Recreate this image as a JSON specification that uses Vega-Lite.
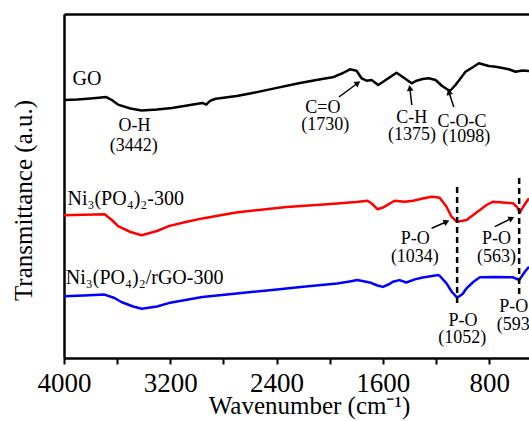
{
  "$schema": "https://vega.github.io/schema/vega-lite/v6.json",
  "width": 465,
  "height": 344,
  "autosize": {"type": "none"},
  "padding": {"left": 64, "top": 14, "right": 0, "bottom": 63},
  "background": "white",
  "config": {"view": {"stroke": null}, "font": "Liberation Serif"},
  "datasets": {
    "spectra": [
      {"series": "GO", "w": 4000, "t": 258}, {"series": "GO", "w": 3900, "t": 258.5}, {"series": "GO", "w": 3800, "t": 259.5}, {"series": "GO", "w": 3682, "t": 260.9}, {"series": "GO", "w": 3640, "t": 258}, {"series": "GO", "w": 3594, "t": 253.4}, {"series": "GO", "w": 3500, "t": 249.5}, {"series": "GO", "w": 3415, "t": 247.4}, {"series": "GO", "w": 3300, "t": 248.5}, {"series": "GO", "w": 3187, "t": 250}, {"series": "GO", "w": 3050, "t": 253}, {"series": "GO", "w": 2959, "t": 255.1}, {"series": "GO", "w": 2929, "t": 253.4}, {"series": "GO", "w": 2910, "t": 256}, {"series": "GO", "w": 2895, "t": 257.5}, {"series": "GO", "w": 2857, "t": 259.2}, {"series": "GO", "w": 2700, "t": 262}, {"series": "GO", "w": 2600, "t": 264.5}, {"series": "GO", "w": 2451, "t": 268.6}, {"series": "GO", "w": 2224, "t": 275}, {"series": "GO", "w": 2100, "t": 278}, {"series": "GO", "w": 1969, "t": 281.1}, {"series": "GO", "w": 1900, "t": 285}, {"series": "GO", "w": 1848, "t": 288.7}, {"series": "GO", "w": 1798, "t": 287.3}, {"series": "GO", "w": 1760, "t": 279.7}, {"series": "GO", "w": 1722, "t": 277.3}, {"series": "GO", "w": 1685, "t": 278}, {"series": "GO", "w": 1635, "t": 273}, {"series": "GO", "w": 1598, "t": 276.3}, {"series": "GO", "w": 1497, "t": 285.3}, {"series": "GO", "w": 1447, "t": 280.7}, {"series": "GO", "w": 1384, "t": 274.7}, {"series": "GO", "w": 1346, "t": 277.3}, {"series": "GO", "w": 1300, "t": 279}, {"series": "GO", "w": 1254, "t": 279.7}, {"series": "GO", "w": 1203, "t": 278}, {"series": "GO", "w": 1154, "t": 272}, {"series": "GO", "w": 1096, "t": 267}, {"series": "GO", "w": 1053, "t": 273}, {"series": "GO", "w": 978, "t": 286.3}, {"series": "GO", "w": 920, "t": 291}, {"series": "GO", "w": 877, "t": 294.7}, {"series": "GO", "w": 802, "t": 292}, {"series": "GO", "w": 752, "t": 291.3}, {"series": "GO", "w": 700, "t": 290}, {"series": "GO", "w": 652, "t": 288.7}, {"series": "GO", "w": 601, "t": 286.3}, {"series": "GO", "w": 550, "t": 287.5}, {"series": "GO", "w": 500, "t": 287},
      {"series": "Ni3(PO4)2-300", "w": 4000, "t": 142.7}, {"series": "Ni3(PO4)2-300", "w": 3850, "t": 143.2}, {"series": "Ni3(PO4)2-300", "w": 3695, "t": 143.7}, {"series": "Ni3(PO4)2-300", "w": 3640, "t": 138}, {"series": "Ni3(PO4)2-300", "w": 3593, "t": 131.9}, {"series": "Ni3(PO4)2-300", "w": 3500, "t": 126}, {"series": "Ni3(PO4)2-300", "w": 3415, "t": 122.8}, {"series": "Ni3(PO4)2-300", "w": 3300, "t": 127}, {"series": "Ni3(PO4)2-300", "w": 3212, "t": 131.9}, {"series": "Ni3(PO4)2-300", "w": 3100, "t": 135.5}, {"series": "Ni3(PO4)2-300", "w": 2959, "t": 139.6}, {"series": "Ni3(PO4)2-300", "w": 2705, "t": 145.4}, {"series": "Ni3(PO4)2-300", "w": 2500, "t": 148.5}, {"series": "Ni3(PO4)2-300", "w": 2324, "t": 151.1}, {"series": "Ni3(PO4)2-300", "w": 2100, "t": 153}, {"series": "Ni3(PO4)2-300", "w": 1944, "t": 154.5}, {"series": "Ni3(PO4)2-300", "w": 1800, "t": 156}, {"series": "Ni3(PO4)2-300", "w": 1715, "t": 157.2}, {"series": "Ni3(PO4)2-300", "w": 1680, "t": 154}, {"series": "Ni3(PO4)2-300", "w": 1639, "t": 148.7}, {"series": "Ni3(PO4)2-300", "w": 1600, "t": 150.5}, {"series": "Ni3(PO4)2-300", "w": 1589, "t": 151.1}, {"series": "Ni3(PO4)2-300", "w": 1513, "t": 157.2}, {"series": "Ni3(PO4)2-300", "w": 1436, "t": 156.2}, {"series": "Ni3(PO4)2-300", "w": 1372, "t": 157.3}, {"series": "Ni3(PO4)2-300", "w": 1300, "t": 159.5}, {"series": "Ni3(PO4)2-300", "w": 1233, "t": 161.2}, {"series": "Ni3(PO4)2-300", "w": 1182, "t": 160.5}, {"series": "Ni3(PO4)2-300", "w": 1171, "t": 160}, {"series": "Ni3(PO4)2-300", "w": 1121, "t": 151.3}, {"series": "Ni3(PO4)2-300", "w": 1083, "t": 141.3}, {"series": "Ni3(PO4)2-300", "w": 1045, "t": 136.3}, {"series": "Ni3(PO4)2-300", "w": 1010, "t": 137}, {"series": "Ni3(PO4)2-300", "w": 970, "t": 138}, {"series": "Ni3(PO4)2-300", "w": 920, "t": 143}, {"series": "Ni3(PO4)2-300", "w": 870, "t": 148}, {"series": "Ni3(PO4)2-300", "w": 820, "t": 153}, {"series": "Ni3(PO4)2-300", "w": 770, "t": 156.3}, {"series": "Ni3(PO4)2-300", "w": 700, "t": 155.5}, {"series": "Ni3(PO4)2-300", "w": 619, "t": 154.7}, {"series": "Ni3(PO4)2-300", "w": 590, "t": 151}, {"series": "Ni3(PO4)2-300", "w": 569, "t": 145.3}, {"series": "Ni3(PO4)2-300", "w": 545, "t": 151}, {"series": "Ni3(PO4)2-300", "w": 519, "t": 156.3}, {"series": "Ni3(PO4)2-300", "w": 500, "t": 159.7},
      {"series": "Ni3(PO4)2/rGO-300", "w": 4000, "t": 61.7}, {"series": "Ni3(PO4)2/rGO-300", "w": 3850, "t": 62.5}, {"series": "Ni3(PO4)2/rGO-300", "w": 3695, "t": 63.4}, {"series": "Ni3(PO4)2/rGO-300", "w": 3620, "t": 60}, {"series": "Ni3(PO4)2/rGO-300", "w": 3568, "t": 56}, {"series": "Ni3(PO4)2/rGO-300", "w": 3480, "t": 51.5}, {"series": "Ni3(PO4)2/rGO-300", "w": 3415, "t": 49.2}, {"series": "Ni3(PO4)2/rGO-300", "w": 3300, "t": 51.5}, {"series": "Ni3(PO4)2/rGO-300", "w": 3212, "t": 54.9}, {"series": "Ni3(PO4)2/rGO-300", "w": 2959, "t": 61}, {"series": "Ni3(PO4)2/rGO-300", "w": 2700, "t": 64.5}, {"series": "Ni3(PO4)2/rGO-300", "w": 2451, "t": 67.8}, {"series": "Ni3(PO4)2/rGO-300", "w": 2200, "t": 71.3}, {"series": "Ni3(PO4)2/rGO-300", "w": 1944, "t": 74.5}, {"series": "Ni3(PO4)2/rGO-300", "w": 1850, "t": 76.5}, {"series": "Ni3(PO4)2/rGO-300", "w": 1792, "t": 77.9}, {"series": "Ni3(PO4)2/rGO-300", "w": 1690, "t": 75.2}, {"series": "Ni3(PO4)2/rGO-300", "w": 1640, "t": 72.5}, {"series": "Ni3(PO4)2/rGO-300", "w": 1600, "t": 71.1}, {"series": "Ni3(PO4)2/rGO-300", "w": 1550, "t": 74}, {"series": "Ni3(PO4)2/rGO-300", "w": 1525, "t": 76.2}, {"series": "Ni3(PO4)2/rGO-300", "w": 1474, "t": 77.9}, {"series": "Ni3(PO4)2/rGO-300", "w": 1423, "t": 75.5}, {"series": "Ni3(PO4)2/rGO-300", "w": 1360, "t": 78.6}, {"series": "Ni3(PO4)2/rGO-300", "w": 1300, "t": 80.5}, {"series": "Ni3(PO4)2/rGO-300", "w": 1182, "t": 82.9}, {"series": "Ni3(PO4)2/rGO-300", "w": 1171, "t": 82}, {"series": "Ni3(PO4)2/rGO-300", "w": 1121, "t": 74.7}, {"series": "Ni3(PO4)2/rGO-300", "w": 1080, "t": 66}, {"series": "Ni3(PO4)2/rGO-300", "w": 1041, "t": 60.3}, {"series": "Ni3(PO4)2/rGO-300", "w": 1000, "t": 64}, {"series": "Ni3(PO4)2/rGO-300", "w": 970, "t": 69.7}, {"series": "Ni3(PO4)2/rGO-300", "w": 920, "t": 76}, {"series": "Ni3(PO4)2/rGO-300", "w": 870, "t": 80.7}, {"series": "Ni3(PO4)2/rGO-300", "w": 750, "t": 81}, {"series": "Ni3(PO4)2/rGO-300", "w": 619, "t": 80.7}, {"series": "Ni3(PO4)2/rGO-300", "w": 574, "t": 78}, {"series": "Ni3(PO4)2/rGO-300", "w": 531, "t": 86.3}, {"series": "Ni3(PO4)2/rGO-300", "w": 500, "t": 91.3}
    ],
    "dashes": [
      {"w": 1041, "top": 171, "bottom": 54},
      {"w": 574, "top": 180, "bottom": 63}
    ],
    "arrows": [
      {"note": "C=O", "wa": 1931, "ta": 261, "wb": 1788, "tb": 275, "ang": 54},
      {"note": "C-H", "wa": 1382, "ta": 253, "wb": 1397, "tb": 270, "ang": -7},
      {"note": "C-O-C", "wa": 1066, "ta": 251, "wb": 1103, "tb": 266, "ang": -18},
      {"note": "P-O 1034", "wa": 1233, "ta": 129.7, "wb": 1120, "tb": 136.3, "ang": 66},
      {"note": "P-O 563", "wa": 757, "ta": 131.3, "wb": 631, "tb": 139.7, "ang": 63}
    ],
    "notes": [
      {"label": "O-H", "w": 3470, "t": 232.5},
      {"label": "(3442)", "w": 3475, "t": 212.5},
      {"label": "C=O", "w": 2051, "t": 249.7},
      {"label": "(1730)", "w": 2034, "t": 233},
      {"label": "C-H", "w": 1382, "t": 240},
      {"label": "(1375)", "w": 1380, "t": 223},
      {"label": "C-O-C", "w": 1005, "t": 236},
      {"label": "(1098)", "w": 972, "t": 221},
      {"label": "P-O", "w": 1357, "t": 118.7},
      {"label": "(1034)", "w": 1359, "t": 101.3},
      {"label": "P-O", "w": 744, "t": 118.7},
      {"label": "(563)", "w": 744, "t": 101.3},
      {"label": "P-O", "w": 996, "t": 37.3},
      {"label": "(1052)", "w": 1003, "t": 19.7},
      {"label": "P-O", "w": 614, "t": 51.3},
      {"label": "(593)", "w": 596, "t": 33}
    ],
    "names": [
      {"label": "GO", "w": 3936, "t": 279},
      {"label": "Ni₃(PO₄)₂-300", "w": 3974, "t": 159},
      {"label": "Ni₃(PO₄)₂/rGO-300", "w": 3986, "t": 80}
    ]
  },
  "resolve": {"axis": {"x": "independent"}},
  "layer": [
    {
      "data": {"name": "spectra"},
      "mark": {"type": "line", "strokeWidth": 2.5, "strokeJoin": "round"},
      "encoding": {
        "x": {
          "field": "w", "type": "quantitative",
          "scale": {"domain": [4000, 500], "nice": false, "zero": false},
          "axis": {
            "orient": "bottom",
            "values": [4000, 3600, 3200, 2800, 2400, 2000, 1600, 1200, 800],
            "format": "d",
            "labelExpr": "datum.value % 800 === 0 ? datum.label : ''",
            "labelOverlap": false, "labelFlush": false,
            "labelFont": "Liberation Serif", "labelFontSize": 27, "labelColor": "black",
            "labelBaseline": "alphabetic", "labelPadding": 27,
            "tickSize": 6, "tickWidth": 2, "tickColor": "black",
            "domainWidth": 2.5, "domainColor": "black", "grid": false,
            "title": "Wavenumber (cm⁻¹)",
            "titleFont": "Liberation Serif", "titleFontSize": 25, "titleFontWeight": "normal", "titleColor": "black",
            "titleBaseline": "alphabetic", "titleX": 245, "titleY": 55,
            "encode": {"ticks": {"update": {"y2": {"signal": "datum.value % 800 === 0 ? 6 : 3"}}}}
          }
        },
        "y": {
          "field": "t", "type": "quantitative",
          "scale": {"domain": [0, 344], "nice": false, "zero": false},
          "title": "Transmittance (a.u.)",
          "axis": {
            "domain": true, "domainWidth": 2.5, "domainColor": "black",
            "ticks": false, "labels": false, "grid": false,
            "titleFont": "Liberation Serif", "titleFontSize": 25, "titleFontWeight": "normal", "titleColor": "black",
            "titleAngle": 270, "titleBaseline": "alphabetic", "titleX": -33, "titleY": 186
          }
        },
        "color": {
          "field": "series", "type": "nominal",
          "scale": {"domain": ["GO", "Ni3(PO4)2-300", "Ni3(PO4)2/rGO-300"], "range": ["#000000", "#ff0000", "#0000ff"]},
          "legend": null
        }
      }
    },
    {
      "data": {"name": "dashes"},
      "mark": {"type": "rule", "strokeWidth": 2.5, "strokeDash": [6, 4], "color": "black"},
      "encoding": {
        "x": {"field": "w", "type": "quantitative",
          "axis": {"orient": "top", "labels": false, "ticks": false, "title": null, "grid": false, "domain": true, "domainWidth": 2.5, "domainColor": "black"}},
        "y": {"field": "top", "type": "quantitative", "title": "Transmittance (a.u.)"},
        "y2": {"field": "bottom"}
      }
    },
    {
      "data": {"name": "arrows"},
      "mark": {"type": "rule", "strokeWidth": 1.5, "color": "black"},
      "encoding": {
        "x": {"field": "wa", "type": "quantitative", "axis": null},
        "y": {"field": "ta", "type": "quantitative", "title": "Transmittance (a.u.)"},
        "x2": {"field": "wb"},
        "y2": {"field": "tb"}
      }
    },
    {
      "data": {"name": "arrows"},
      "mark": {"type": "point", "shape": "triangle-up", "filled": true, "size": 45, "color": "black", "opacity": 1},
      "encoding": {
        "x": {"field": "wb", "type": "quantitative", "axis": null},
        "y": {"field": "tb", "type": "quantitative", "title": "Transmittance (a.u.)"},
        "angle": {"field": "ang", "type": "quantitative", "scale": null}
      }
    },
    {
      "data": {"name": "notes"},
      "mark": {"type": "text", "font": "Liberation Serif", "fontSize": 18, "color": "black", "align": "center", "baseline": "middle"},
      "encoding": {
        "x": {"field": "w", "type": "quantitative", "axis": null},
        "y": {"field": "t", "type": "quantitative", "title": "Transmittance (a.u.)"},
        "text": {"field": "label"}
      }
    },
    {
      "data": {"name": "names"},
      "mark": {"type": "text", "font": "Liberation Serif", "fontSize": 20, "color": "black", "align": "left", "baseline": "middle"},
      "encoding": {
        "x": {"field": "w", "type": "quantitative", "axis": null},
        "y": {"field": "t", "type": "quantitative", "title": "Transmittance (a.u.)"},
        "text": {"field": "label"}
      }
    }
  ]
}
